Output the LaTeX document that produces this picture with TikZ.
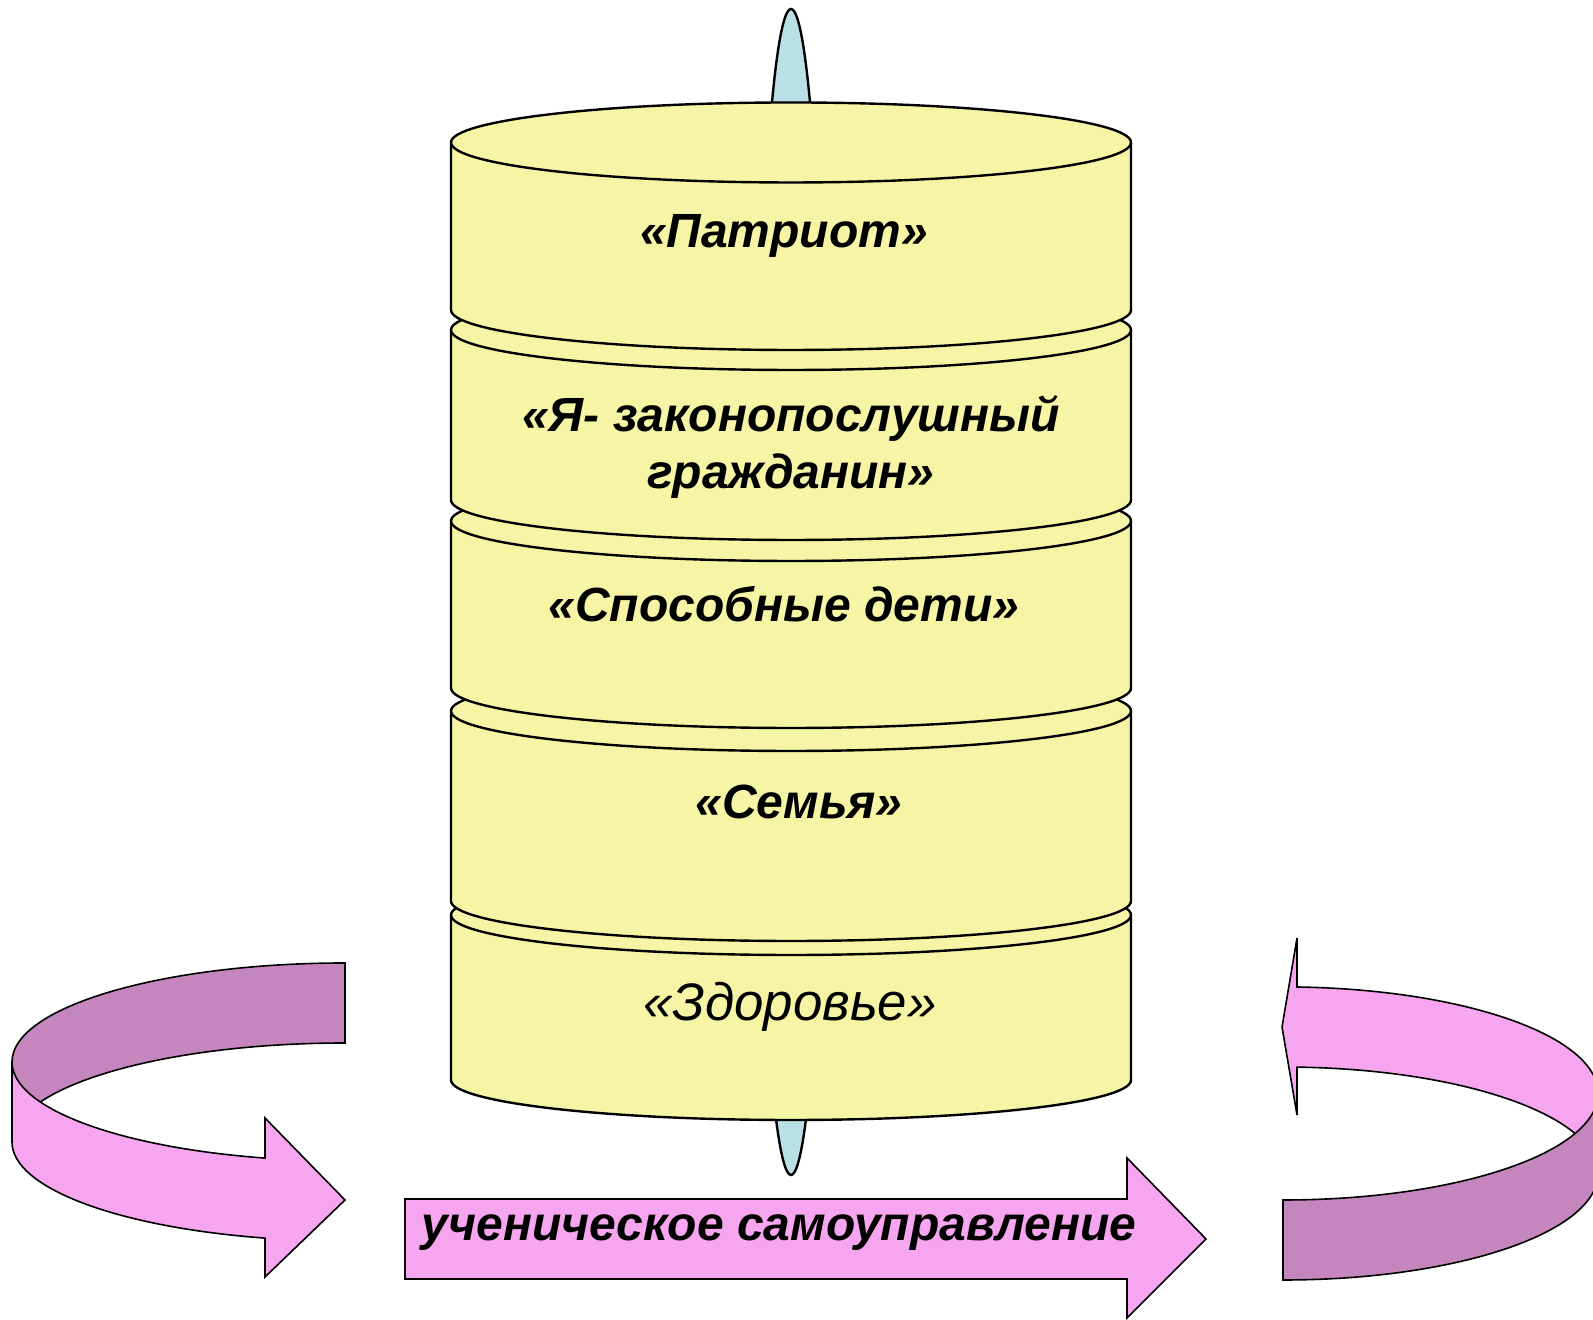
\documentclass[tikz,border=0pt]{standalone}
\usepackage{fontspec}
\setmainfont{Liberation Sans}
\definecolor{diskyellow}{RGB}{245,245,165}
\definecolor{axisblue}{RGB}{185,224,228}
\definecolor{bandpink}{RGB}{246,166,239}
\definecolor{bandmauve}{RGB}{197,134,189}

\begin{document}
\begin{tikzpicture}[x=0.5pt,y=0.5pt,
      disk/.style={
        draw,
        line width=1.2pt,
        fill=diskyellow
      },
      band/.style={
        draw,
        line width=0.8pt,
        line join=miter
      },
      title/.style={
        font=\fontsize{24}{28.5}\selectfont\bfseries\itshape,
        align=center
      }
      ]
      \useasboundingbox (0,0) rectangle (1593,1320);
      % spindle behind the stack
      \draw[line width=1.2pt,fill=axisblue] (791,728) ellipse[x radius=35,y radius=583];
      % disks, lowest first
      \foreach \yt/\yb in {405/240,609/419,799/632,990/820,1177.5/1010}{
        \draw[disk] (451,\yt) -- (451,\yb)
          arc[start angle=180,end angle=360,x radius=340,y radius=40]
          -- (1131,\yt) arc[start angle=0,end angle=180,x radius=340,y radius=40] -- cycle;
        \draw[line width=1.2pt] (451,\yt) arc[start angle=180,end angle=360,x radius=340,y radius=40];
      }
      \node[title,anchor=base] (patriot) at (784,1072) {«Патриот»};
      \node[title] (citizen) at (791,873) {«Я- законопослушный\\гражданин»};
      \node[title,anchor=base] (gifted) at (784,698) {«Способные дети»};
      \node[title,anchor=base] (family) at (799,501) {«Семья»};
      \node[title,anchor=base,font=\fontsize{26.4}{30}\selectfont\itshape] (health) at (790,299) {«Здоровье»};

      % left turning band
      \draw[band,fill=bandmauve] (345,357)
        arc[start angle=90,end angle=180,x radius=333,y radius=99] -- (12,178)
        arc[start angle=180,end angle=90,x radius=333,y radius=99] -- cycle;
      \draw[band,fill=bandpink] (12,258)
        arc[start angle=180,end angle=256.1,x radius=333,y radius=99]
        -- (265,202) -- (345,120) -- (265,43) -- (265,81.9)
        arc[start angle=256.1,end angle=180,x radius=333,y radius=99] -- cycle;
      % right turning band
      \draw[band,fill=bandpink] (1297,333)
        arc[start angle=87.45,end angle=0,x radius=315,y radius=106.5] -- (1598,146.5)
        arc[start angle=0,end angle=87.45,x radius=315,y radius=106.5]
        -- (1297,205) -- (1282,293) -- (1297,382) -- cycle;
      \draw[band,fill=bandmauve] (1283,120)
        arc[start angle=270,end angle=360,x radius=315,y radius=106.5] -- (1598,146.5)
        arc[start angle=0,end angle=-90,x radius=315,y radius=106.5] -- cycle;
      % straight arrow
      \draw[band,fill=bandpink] (405,121) -- (1127,121) -- (1127,162) -- (1206,81)
        -- (1127,2) -- (1127,41) -- (405,41) -- cycle;
      \node[title,anchor=base] (selfgov) at (779,79) {ученическое самоуправление};
\end{tikzpicture}
\end{document}
